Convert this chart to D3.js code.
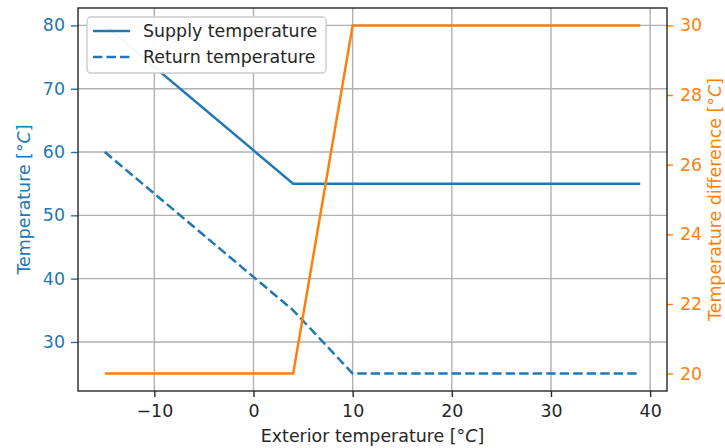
<!DOCTYPE html>
<html>
<head>
<meta charset="utf-8">
<script src="https://cdn.jsdelivr.net/npm/d3@7"></script>
<style>
  body { margin: 0; background: #fff; }
  svg text { font-family: 'DejaVu Sans', sans-serif; }
</style>
</head>
<body>
<div class="main"></div>
<script>
// chart data
var exteriorTemps = [-15, 4, 10, 39];
var supplyTemps = [80, 55, 55, 55];
var returnTemps = [60, 35, 25, 25];
var tempDiffs = [20, 20, 30, 30];

var xTicks = [-10, 0, 10, 20, 30, 40];
var leftTicks = [30, 40, 50, 60, 70, 80];
var rightTicks = [20, 22, 24, 26, 28, 30];

var blue = '#1f77b4';
var orange = '#ff7f0e';
var fontSize = '17.4px';
var dash = '9.4,4.1';

var width = 725, height = 448;
var plotL = 78, plotR = 667, plotT = 8, plotB = 391;

var svg = d3.select('.main')
    .append('svg')
    .attr('width', width)
    .attr('height', height);

var x = d3.scaleLinear().domain([-17.7, 41.7]).range([plotL, plotR]);
var yLeft = d3.scaleLinear().domain([22.25, 82.75]).range([plotB, plotT]);
var yRight = d3.scaleLinear().domain([19.5, 30.5]).range([plotB, plotT]);

// grid
var grid = svg.append('g');
grid.selectAll('.vgrid')
    .data(xTicks)
    .enter()
    .append('line')
    .attr('x1', function (d) { return x(d); })
    .attr('x2', function (d) { return x(d); })
    .attr('y1', plotT)
    .attr('y2', plotB)
    .style('stroke', '#b0b0b0')
    .style('stroke-width', 1.4);
grid.selectAll('.hgrid')
    .data(leftTicks)
    .enter()
    .append('line')
    .attr('x1', plotL)
    .attr('x2', plotR)
    .attr('y1', function (d) { return yLeft(d); })
    .attr('y2', function (d) { return yLeft(d); })
    .style('stroke', '#b0b0b0')
    .style('stroke-width', 1.4);

// lines
var supplyLine = d3.line()
    .x(function (d, i) { return x(exteriorTemps[i]); })
    .y(function (d) { return yLeft(d); });
var diffLine = d3.line()
    .x(function (d, i) { return x(exteriorTemps[i]); })
    .y(function (d) { return yRight(d); });

svg.append('path')
    .attr('d', supplyLine(supplyTemps))
    .style('fill', 'none')
    .style('stroke', blue)
    .style('stroke-width', 2.5);

svg.append('path')
    .attr('d', supplyLine(returnTemps))
    .style('fill', 'none')
    .style('stroke', blue)
    .style('stroke-width', 2.5)
    .style('stroke-dasharray', dash);

svg.append('path')
    .attr('d', diffLine(tempDiffs))
    .style('fill', 'none')
    .style('stroke', orange)
    .style('stroke-width', 2.5);

// axes
var xAxis = svg.append('g')
    .attr('transform', 'translate(0,' + plotB + ')')
    .call(d3.axisBottom(x).tickValues(xTicks).tickSize(6).tickPadding(8)
        .tickFormat(function (d) { return d < 0 ? '\u2212' + Math.abs(d) : d; }));
xAxis.selectAll('text').style('font-size', fontSize).style('fill', '#262626');
xAxis.selectAll('line').style('stroke', '#262626').style('stroke-width', 1.4);

var lAxis = svg.append('g')
    .attr('transform', 'translate(' + plotL + ',0)')
    .call(d3.axisLeft(yLeft).tickValues(leftTicks).tickSize(7).tickPadding(6));
lAxis.selectAll('text').style('font-size', fontSize).style('fill', blue);
lAxis.selectAll('line').style('stroke', blue).style('stroke-width', 1.4);

var rAxis = svg.append('g')
    .attr('transform', 'translate(' + plotR + ',0)')
    .call(d3.axisRight(yRight).tickValues(rightTicks).tickSize(6).tickPadding(7));
rAxis.selectAll('text').style('font-size', fontSize).style('fill', orange);
rAxis.selectAll('line').style('stroke', orange).style('stroke-width', 1.4);

[xAxis, lAxis, rAxis].forEach(function (a) { a.select('.domain').remove(); });

// frame
svg.append('rect')
    .attr('x', plotL)
    .attr('y', plotT)
    .attr('width', plotR - plotL)
    .attr('height', plotB - plotT)
    .style('fill', 'none')
    .style('stroke', '#262626')
    .style('stroke-width', 1.4);

// axis labels
svg.append('text')
    .attr('x', (plotL + plotR) / 2)
    .attr('y', 442)
    .attr('text-anchor', 'middle')
    .style('font-size', fontSize)
    .style('fill', '#262626')
    .html('Exterior temperature [°<tspan font-style="italic">C</tspan>]');

svg.append('text')
    .attr('transform', 'translate(30,' + (plotT + plotB) / 2 + ') rotate(-90)')
    .attr('text-anchor', 'middle')
    .style('font-size', fontSize)
    .style('fill', blue)
    .html('Temperature [°<tspan font-style="italic">C</tspan>]');

svg.append('text')
    .attr('transform', 'translate(721,' + (plotT + plotB) / 2 + ') rotate(-90)')
    .attr('text-anchor', 'middle')
    .style('font-size', fontSize)
    .style('fill', orange)
    .html('Temperature difference [°<tspan font-style="italic">C</tspan>]');

// legend
var legend = svg.append('g').attr('transform', 'translate(87,17)');
legend.append('rect')
    .attr('width', 239)
    .attr('height', 56)
    .attr('rx', 4)
    .style('fill', 'rgba(255,255,255,0.95)')
    .style('stroke', '#cccccc')
    .style('stroke-width', 1.4);
var legendItems = [
    { label: 'Supply temperature', dash: null },
    { label: 'Return temperature', dash: dash }
];
var items = legend.selectAll('.item')
    .data(legendItems)
    .enter()
    .append('g')
    .attr('transform', function (d, i) { return 'translate(0,' + (14 + i * 26) + ')'; });
items.append('line')
    .attr('x1', 6)
    .attr('x2', 43)
    .style('stroke', blue)
    .style('stroke-width', 2.5)
    .style('stroke-dasharray', function (d) { return d.dash; });
items.append('text')
    .attr('x', 56)
    .attr('y', 6)
    .style('font-size', fontSize)
    .style('fill', '#262626')
    .text(function (d) { return d.label; });
</script>
</body>
</html>
